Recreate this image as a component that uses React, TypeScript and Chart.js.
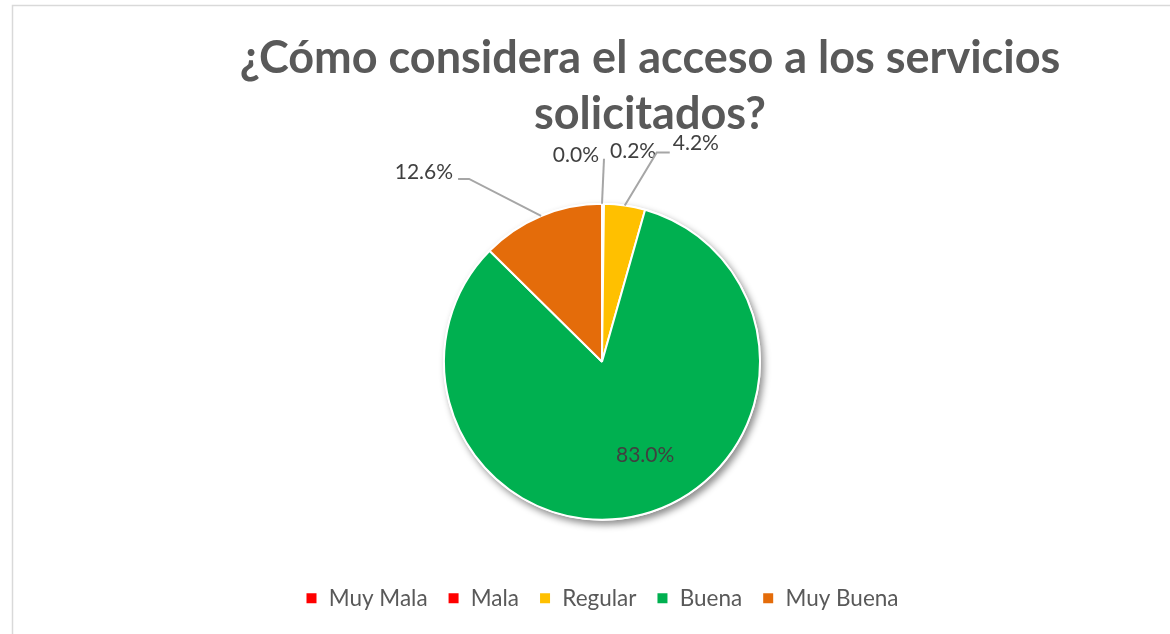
import React, { useEffect, useRef } from "react";
import { Chart, registerables } from "chart.js";

Chart.register(...registerables);

// ---------- data ----------
const TITLE_LINES = ["¿Cómo considera el acceso a los servicios", "solicitados?"];
const CATEGORIES = ["Muy Mala", "Mala", "Regular", "Buena", "Muy Buena"];
const VALUES = [0.0, 0.2, 4.2, 83.0, 12.6];
const COLORS = ["#FF0000", "#FF0000", "#FFC000", "#00B050", "#E46C0A"];

// ---------- layout / style ----------
const FONT = "Lato";
const TEXT_DARK = "#404040";
const TEXT_GRAY = "#595959";
const LEADER = "#A6A6A6";
const PIE_RADIUS = 158;
const TITLE_X = 650;
const TITLE_BASELINES = [73, 129];

type LabelLayout =
  | { kind: "leader"; elbow: [number, number]; hook: number; text: [number, number]; align: CanvasTextAlign }
  | { kind: "free"; text: [number, number]; align: CanvasTextAlign }
  | { kind: "inside"; factor: number; text: [number, number] };

const LABEL_LAYOUT: LabelLayout[] = [
  { kind: "leader", elbow: [2, -45], hook: 0, text: [-5, 3], align: "right" },
  { kind: "free", text: [7, -46], align: "left" },
  { kind: "leader", elbow: [32, -53], hook: 13, text: [3, -2], align: "left" },
  { kind: "inside", factor: 0.6, text: [19, 2] },
  { kind: "leader", elbow: [-72, -37], hook: -11, text: [-5, 0], align: "right" },
];

const framePlugin = {
  id: "frame",
  beforeDraw(chart: any) {
    const ctx = chart.ctx as CanvasRenderingContext2D;
    ctx.save();
    ctx.fillStyle = "#ffffff";
    ctx.fillRect(0, 0, chart.width, chart.height);
    ctx.strokeStyle = "#D9D9D9";
    ctx.lineWidth = 1.5;
    ctx.beginPath();
    ctx.moveTo(12.5, chart.height + 2);
    ctx.lineTo(12.5, 5.5);
    ctx.lineTo(chart.width + 2, 5.5);
    ctx.stroke();
    ctx.restore();
  },
};

const shadowPlugin = {
  id: "pieShadow",
  beforeDatasetsDraw(chart: any) {
    const meta = chart.getDatasetMeta(0);
    const arc = meta.data[0];
    if (!arc) return;
    const { x, y, outerRadius } = arc.getProps(["x", "y", "outerRadius"], true);
    const ctx = chart.ctx as CanvasRenderingContext2D;
    ctx.save();
    ctx.shadowColor = "rgba(0,0,0,0.45)";
    ctx.shadowBlur = 7;
    ctx.shadowOffsetX = 3;
    ctx.shadowOffsetY = 4;
    ctx.beginPath();
    ctx.arc(x, y, outerRadius + 1, 0, Math.PI * 2);
    ctx.fillStyle = "#ffffff";
    ctx.fill();
    ctx.restore();
  },
};

const labelsPlugin = {
  id: "pieLabels",
  afterDatasetsDraw(chart: any) {
    const ctx = chart.ctx as CanvasRenderingContext2D;
    const meta = chart.getDatasetMeta(0);
    ctx.save();
    ctx.font = `21px ${FONT}`;
    ctx.fillStyle = TEXT_DARK;
    ctx.textBaseline = "alphabetic";
    meta.data.forEach((arc: any, i: number) => {
      const { x, y, startAngle, endAngle, outerRadius } = arc.getProps(
        ["x", "y", "startAngle", "endAngle", "outerRadius"],
        true
      );
      const mid = (startAngle + endAngle) / 2;
      const label = `${VALUES[i].toFixed(1)}%`;
      const lay = LABEL_LAYOUT[i];
      if (lay.kind === "inside") {
        const px = x + Math.cos(mid) * outerRadius * lay.factor + lay.text[0];
        const py = y + Math.sin(mid) * outerRadius * lay.factor + lay.text[1];
        ctx.textAlign = "center";
        ctx.textBaseline = "middle";
        ctx.fillText(label, px, py);
        ctx.textBaseline = "alphabetic";
        return;
      }
      const ex = x + Math.cos(mid) * outerRadius;
      const ey = y + Math.sin(mid) * outerRadius;
      if (lay.kind === "free") {
        ctx.textAlign = lay.align;
        ctx.fillText(label, ex + lay.text[0], ey + lay.text[1]);
        return;
      }
      const bx = ex + lay.elbow[0];
      const by = ey + lay.elbow[1];
      const hx = bx + lay.hook;
      ctx.save();
      ctx.strokeStyle = LEADER;
      ctx.lineWidth = 2;
      ctx.beginPath();
      ctx.moveTo(ex, ey);
      ctx.lineTo(bx, by);
      if (lay.hook !== 0) ctx.lineTo(hx, by);
      ctx.stroke();
      ctx.restore();
      ctx.textAlign = lay.align;
      ctx.fillText(label, hx + lay.text[0], by + lay.text[1]);
    });
    ctx.restore();
  },
};

const titlePlugin = {
  id: "customTitle",
  afterDraw(chart: any) {
    const ctx = chart.ctx as CanvasRenderingContext2D;
    ctx.save();
    ctx.font = `bold 45px ${FONT}`;
    ctx.fillStyle = TEXT_GRAY;
    ctx.textAlign = "center";
    ctx.textBaseline = "alphabetic";
    TITLE_LINES.forEach((line, i) => ctx.fillText(line, TITLE_X, TITLE_BASELINES[i]));
    ctx.restore();
  },
};

export default function App() {
  const canvasRef = useRef<HTMLCanvasElement | null>(null);

  useEffect(() => {
    if (!canvasRef.current) return;
    Chart.defaults.font.family = FONT;
    const chart = new Chart(canvasRef.current, {
      type: "pie",
      data: {
        labels: CATEGORIES,
        datasets: [
          {
            data: VALUES,
            backgroundColor: COLORS,
            borderColor: "#ffffff",
            borderWidth: 2,
          },
        ],
      },
      options: {
        animation: false,
        responsive: true,
        maintainAspectRatio: false,
        radius: PIE_RADIUS,
        layout: { padding: { top: 156.5, bottom: 14.5, left: 34, right: 0 } },
        plugins: {
          tooltip: { enabled: false },
          title: { display: false },
          legend: {
            display: true,
            position: "bottom",
            labels: {
              color: TEXT_GRAY,
              boxWidth: 12,
              boxHeight: 12,
              padding: 20,
              font: { size: 22.5, family: FONT },
            },
          },
        },
      } as any,
      plugins: [framePlugin, shadowPlugin, labelsPlugin, titlePlugin],
    });
    return () => chart.destroy();
  }, []);

  return (
    <div style={{ position: "fixed", left: 0, top: 0, width: 1170, height: 634, background: "#fff" }}>
      <canvas ref={canvasRef} style={{ width: "100%", height: "100%" }} />
    </div>
  );
}
